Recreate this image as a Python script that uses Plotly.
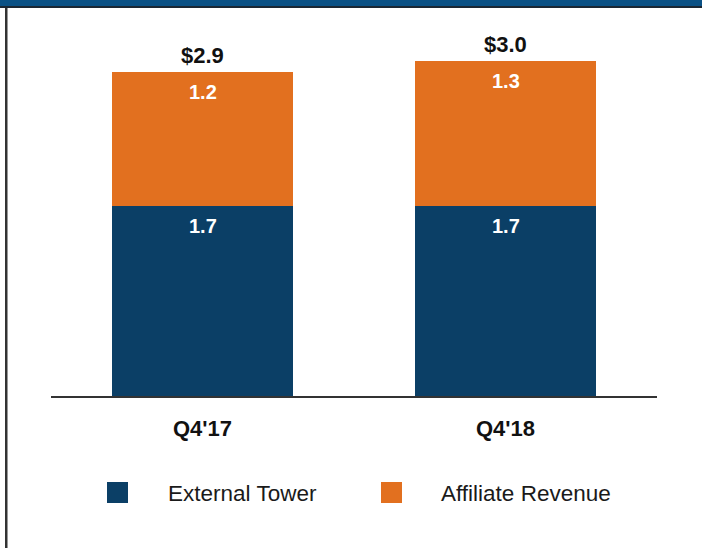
import plotly.graph_objects as go

categories = ["Q4'17", "Q4'18"]
external_tower = [1.7, 1.7]
affiliate_revenue = [1.2, 1.3]
totals = [2.9, 3.0]
series_names = ["External Tower", "Affiliate Revenue"]
series_colors = ["#0b3f66", "#e2701f"]

W, H = 702, 548
FONT = "Liberation Sans, Arial, sans-serif"

def px_x(x):
    return x / W

def px_y(y):
    return 1 - y / H

fig = go.Figure()
series = [external_tower, affiliate_revenue]
for vals, name, color in zip(series, series_names, series_colors):
    fig.add_trace(go.Bar(
        x=categories, y=vals, name=name, marker=dict(color=color, line=dict(width=0)),
        width=0.6, showlegend=False, hoverinfo="skip",
    ))

annotations = []
# segment labels near the top of each segment
cum = [0.0] * len(categories)
for vals in series:
    for i, (c, v) in enumerate(zip(categories, vals)):
        cum[i] += v
        annotations.append(dict(x=c, y=cum[i], xref="x", yref="y", text=f"<b>{v:.1f}</b>",
                                showarrow=False, yanchor="middle", yshift=-20,
                                font=dict(family=FONT, size=20, color="white")))

for c, t in zip(categories, totals):
    annotations.append(dict(x=c, y=t, xref="x", yref="y", text=f"<b>${t:.1f}</b>",
                            showarrow=False, yanchor="middle", yshift=17,
                            font=dict(family=FONT, size=22, color="#111111")))

shapes = [
    dict(type="rect", xref="paper", yref="paper", x0=0, x1=1, y0=px_y(6), y1=1,
         fillcolor="#0a5185", line=dict(width=0), layer="above"),
    dict(type="rect", xref="paper", yref="paper", x0=0, x1=1, y0=px_y(8), y1=px_y(6),
         fillcolor="#1b2733", line=dict(width=0), layer="above"),
    dict(type="rect", xref="paper", yref="paper", x0=px_x(5), x1=px_x(7.5), y0=0, y1=px_y(8),
         fillcolor="#333333", line=dict(width=0), layer="above"),
]

# manual legend
legend_sq_x = [107, 381]
legend_txt_x = [166, 439]
for name, color, sx, tx in zip(series_names, series_colors, legend_sq_x, legend_txt_x):
    shapes.append(dict(type="rect", xref="paper", yref="paper",
                       x0=px_x(sx), x1=px_x(sx + 21), y0=px_y(503), y1=px_y(482),
                       fillcolor=color, line=dict(width=0)))
    annotations.append(dict(x=px_x(tx), y=px_y(493), xref="paper", yref="paper",
                            text=name, showarrow=False, xanchor="left", yanchor="middle",
                            font=dict(family=FONT, size=22.5, color="#1a1a1a")))

fig.update_layout(
    barmode="stack",
    width=W, height=H,
    margin=dict(l=0, r=0, t=0, b=0),
    paper_bgcolor="white", plot_bgcolor="white",
    showlegend=False,
    xaxis=dict(domain=[px_x(51), px_x(657)], range=[-0.5, 1.5], showgrid=False,
               showline=True, linecolor="#333333", linewidth=2, ticks="",
               tickfont=dict(family=FONT, size=22, color="#111111"),
               ticklabelstandoff=12,
               tickvals=categories, ticktext=[f"<b>{c}</b>" for c in categories]),
    yaxis=dict(domain=[px_y(396), px_y(40)], range=[0, 3.19], visible=False,
               showgrid=False, zeroline=False),
    annotations=annotations,
    shapes=shapes,
    bargap=0.4,
)

fig.write_html("out.html", config={"displayModeBar": False},
               post_script="document.body.style.margin='0';document.body.style.overflow='hidden';")
